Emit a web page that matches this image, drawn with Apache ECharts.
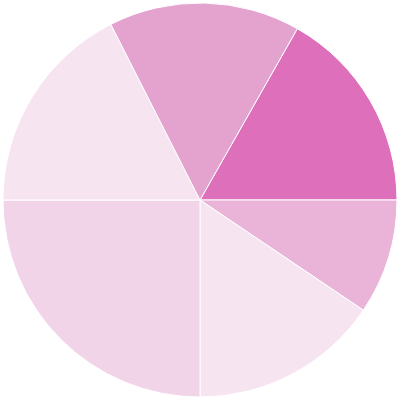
<!DOCTYPE html>
<html><head><meta charset="utf-8">
<script src="https://cdn.jsdelivr.net/npm/echarts@6/dist/echarts.min.js"></script>
<style>html,body{margin:0;padding:0;background:#fff}#c{width:400px;height:400px}</style>
</head><body><div id="c"></div>
<script>
const categories = ['A', 'B', 'C', 'D', 'E', 'F'];
const values = [60.4, 34, 56, 90, 63.1, 56.5];
const colors = ['#dd6fbb', '#e9b4d8', '#f6e4f0', '#f1d4e8', '#f6e4f0', '#e4a2cf'];
const chart = echarts.init(document.getElementById('c'));
chart.setOption({
  animation: false,
  series: [{
    type: 'pie',
    center: ['50%', '50%'],
    radius: '98.5%',
    startAngle: 60.4,
    clockwise: true,
    label: { show: false },
    labelLine: { show: false },
    itemStyle: { borderColor: '#fff', borderWidth: 1 },
    data: categories.map((n, i) => ({ name: n, value: values[i], itemStyle: { color: colors[i] } }))
  }]
});
</script></body></html>
